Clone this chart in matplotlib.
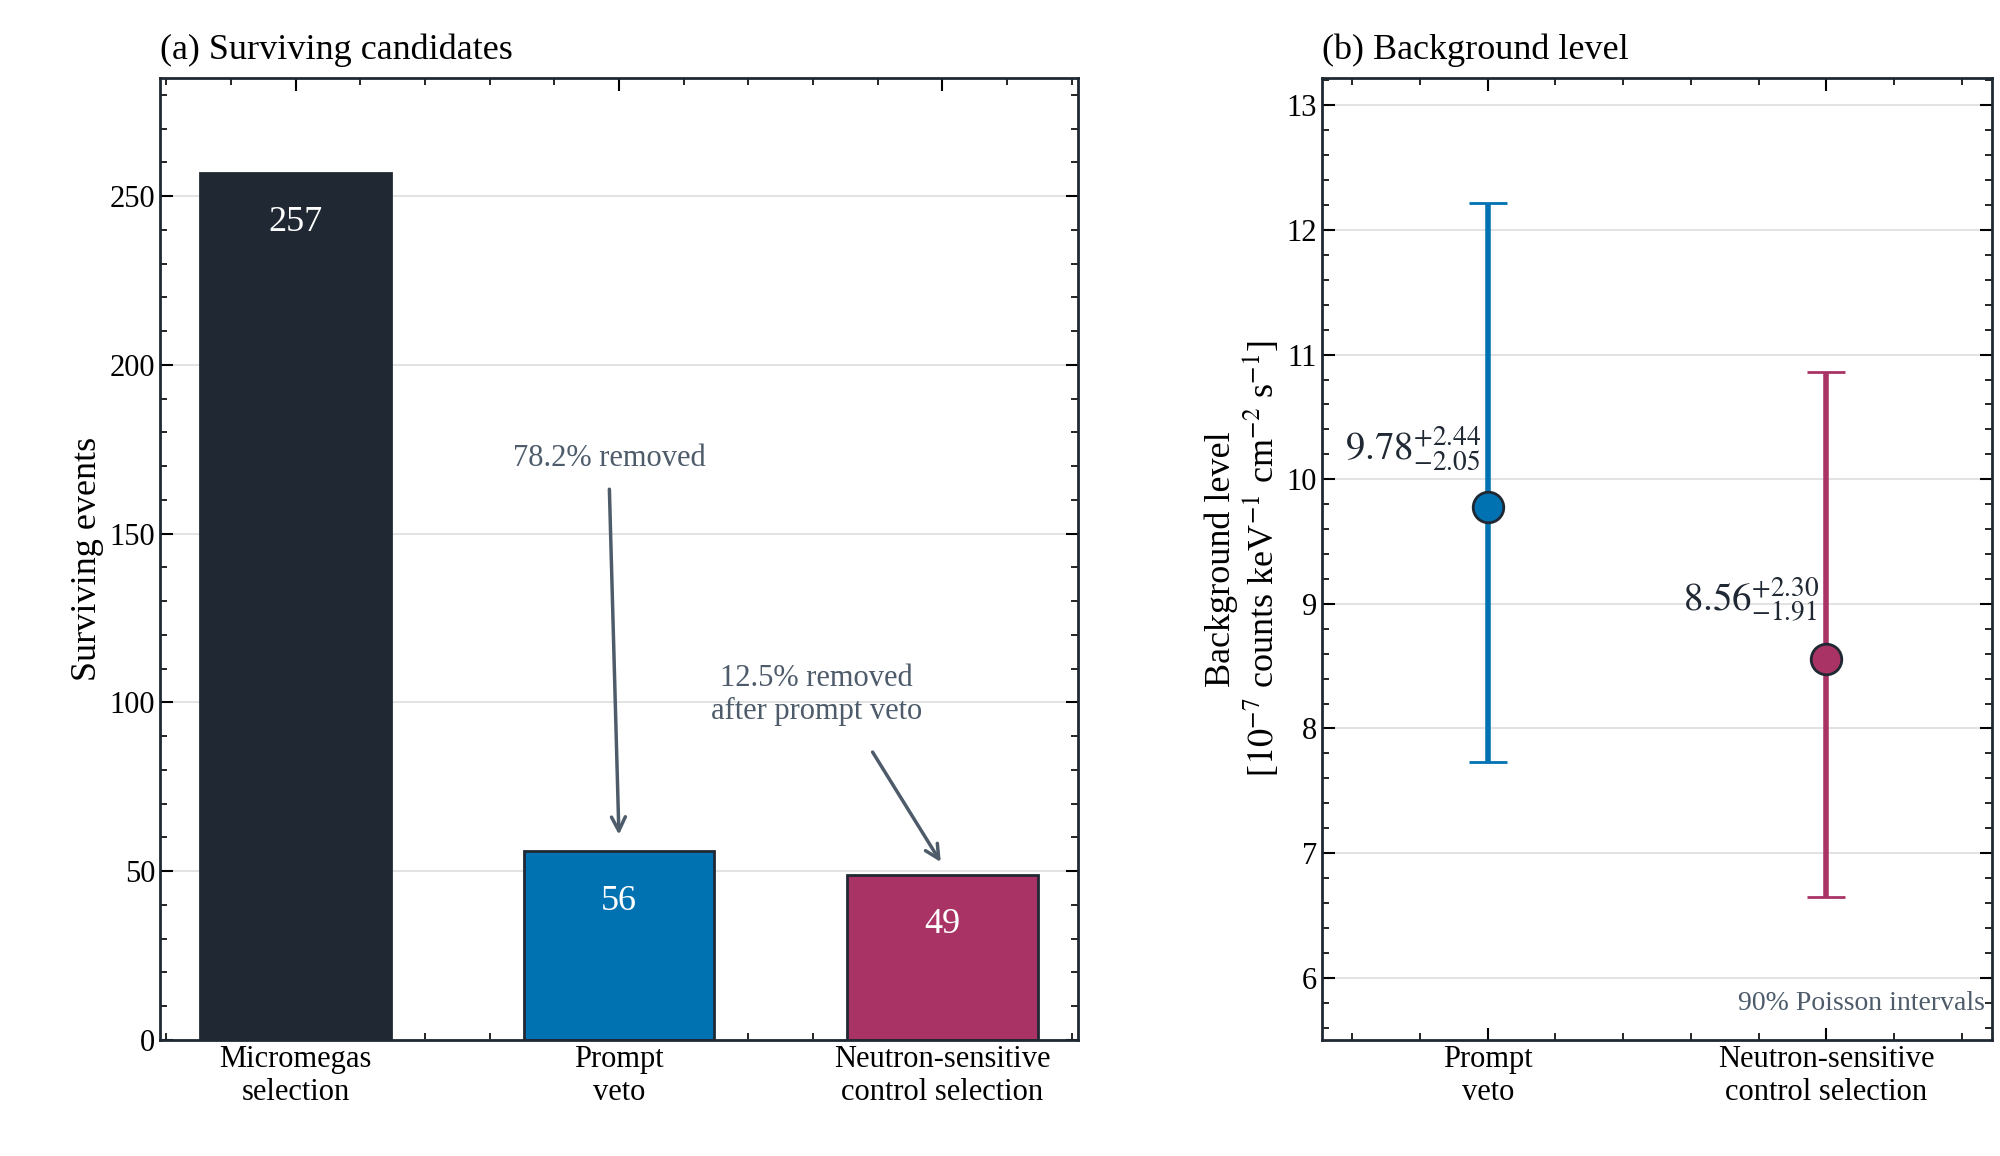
import matplotlib
matplotlib.use("Agg")
import matplotlib.pyplot as plt
from matplotlib.ticker import AutoMinorLocator

cats_a = ["Micromegas\nselection", "Prompt\nveto", "Neutron-sensitive\ncontrol selection"]
counts = [257, 56, 49]
cats_b = ["Prompt\nveto", "Neutron-sensitive\ncontrol selection"]
bkg = [9.78, 8.56]
err_up = [2.44, 2.30]
err_dn = [2.05, 1.91]

dark = "#1f2833"; blue = "#0072b2"; mag = "#aa3366"; ann = "#4d5b6a"
bar_cols = [dark, blue, mag]

plt.rcParams['font.family'] = ['Liberation Serif', 'DejaVu Serif']
plt.rcParams['mathtext.fontset'] = 'stix'
plt.rcParams['font.size'] = 22

fig = plt.figure(figsize=(20, 11.56), dpi=100)
ax1 = fig.add_axes([160/2000, 1-1040/1156, 918/2000, 962/1156])
ax2 = fig.add_axes([1322/2000, 1-1040/1156, 670/2000, 962/1156])

for ax in (ax1, ax2):
    ax.tick_params(direction='in', which='both', top=True, right=True, labelsize=22)
    ax.tick_params(which='major', length=9, width=1.5)
    ax.tick_params(which='minor', length=5, width=1.2)
    for s in ax.spines.values():
        s.set_linewidth(2); s.set_color(dark)
    ax.yaxis.grid(True, color='#dddddd', lw=1.2)
    ax.set_axisbelow(True)

x = list(range(len(counts)))
ax1.bar(x, counts, width=0.59, color=bar_cols, edgecolor=dark, linewidth=2)
ax1.set_xlim(-0.42, 2.42); ax1.set_ylim(0, 285)
ax1.set_xticks(x, cats_a)
ax1.xaxis.set_minor_locator(AutoMinorLocator(5))
ax1.yaxis.set_minor_locator(AutoMinorLocator(5))
ax1.set_ylabel("Surviving events", fontsize=26)
ax1.set_title("(a) Surviving candidates", loc='left', fontsize=26, pad=14)
ax1.text(0, counts[0]-10, str(counts[0]), ha='center', va='top', color='white', fontsize=26)
ax1.text(1, counts[1]-10, str(counts[1]), ha='center', va='top', color='white', fontsize=26)
ax1.text(2, counts[2]-10, str(counts[2]), ha='center', va='top', color='white', fontsize=26)
ax1.text(0.97, 168, "78.2% removed", ha='center', va='bottom', color=ann, fontsize=22)
ax1.annotate("", xy=(1.0, 60), xytext=(0.97, 164),
             arrowprops=dict(arrowstyle='->', color=ann, lw=2.5, mutation_scale=25))
ax1.text(2.32/2+0.5-0.05, 93, "12.5% removed\nafter prompt veto", ha='center', va='bottom',
         color=ann, fontsize=22, linespacing=1.2)
ax1.annotate("", xy=(2.0, 52), xytext=(1.78, 86),
             arrowprops=dict(arrowstyle='->', color=ann, lw=2.5, mutation_scale=25))

xb = [0, 1]
cols_b = [blue, mag]
for i in range(2):
    ax2.errorbar(xb[i], bkg[i], yerr=[[err_dn[i]], [err_up[i]]], fmt='o', color=cols_b[i],
                 ecolor=cols_b[i], elinewidth=4, capsize=14, capthick=3,
                 markersize=22, markeredgecolor=dark, markeredgewidth=2, zorder=3)
    ax2.text(xb[i]-0.02, bkg[i]+0.28, r"$%.2f^{+%.2f}_{-%.2f}$" % (bkg[i], err_up[i], err_dn[i]),
             ha='right', va='bottom', fontsize=28, color=dark)
ax2.set_xlim(-0.49, 1.49); ax2.set_ylim(5.5, 13.22)
ax2.set_xticks(xb, cats_b)
ax2.xaxis.set_minor_locator(AutoMinorLocator(5))
ax2.yaxis.set_minor_locator(AutoMinorLocator(5))
ax2.set_ylabel("Background level\n[$10^{-7}$ counts keV$^{-1}$ cm$^{-2}$ s$^{-1}$]", fontsize=26, linespacing=1.1)
ax2.set_title("(b) Background level", loc='left', fontsize=26, pad=14)
ax2.text(0.99, 0.025, "90% Poisson intervals", transform=ax2.transAxes, ha='right', va='bottom',
         color=ann, fontsize=20)

fig.savefig("out.png", dpi=100)
